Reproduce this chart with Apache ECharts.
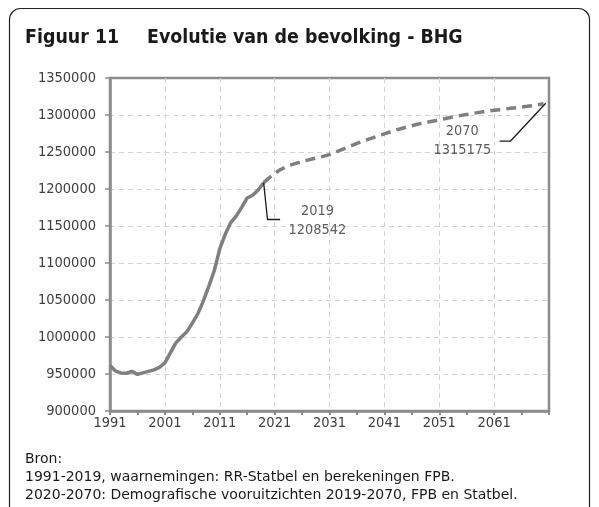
<!DOCTYPE html>
<html>
<head>
<meta charset="utf-8">
<script src="https://cdn.jsdelivr.net/npm/echarts@6/dist/echarts.min.js"></script>
<style>
  html, body { margin: 0; padding: 0; background: #fff; }
  #chart { width: 599px; height: 507px; }
</style>
</head>
<body>
<div id="chart"></div>
<script>
const FONT = "'DejaVu Sans Condensed', 'DejaVu Sans', sans-serif";
const FONT_REG = "'DejaVu Sans', sans-serif";

// waarnemingen 1991-2019
const obsYears = [1991, 1992, 1993, 1994, 1995, 1996, 1997, 1998, 1999, 2000,
  2001, 2002, 2003, 2004, 2005, 2006, 2007, 2008, 2009, 2010,
  2011, 2012, 2013, 2014, 2015, 2016, 2017, 2018, 2019];
const obsValues = [961500, 954000, 951500, 951000, 953500, 949500, 951500, 953500, 955500, 959000,
  965000, 978500, 992000, 1000000, 1007000, 1018800, 1031200, 1048500, 1068500, 1089500,
  1119000, 1138800, 1154600, 1163500, 1175200, 1187900, 1191600, 1198700, 1208542];

// vooruitzichten 2019-2070
const projYears = [2019, 2020, 2021, 2022, 2023, 2024, 2025, 2026, 2027, 2028,
  2029, 2030, 2031, 2032, 2033, 2034, 2035, 2036, 2037, 2038,
  2039, 2040, 2041, 2042, 2043, 2044, 2045, 2046, 2047, 2048,
  2049, 2050, 2051, 2052, 2053, 2054, 2055, 2056, 2057, 2058,
  2059, 2060, 2061, 2062, 2063, 2064, 2065, 2066, 2067, 2068,
  2069, 2070];
const projValues = [1208542, 1215000, 1221000, 1226000, 1229500, 1232500, 1235000, 1237000, 1239000, 1240800,
  1242500, 1244500, 1246500, 1249500, 1252500, 1255500, 1258500, 1261500, 1264500, 1267000,
  1269500, 1272000, 1274500, 1277000, 1279500, 1281500, 1283500, 1285500, 1287500, 1289000,
  1290500, 1292000, 1293500, 1295000, 1296500, 1298000, 1299500, 1300800, 1302000, 1303200,
  1304300, 1305300, 1306300, 1307200, 1308100, 1309000, 1309900, 1310800, 1311700, 1312700,
  1313900, 1315175];

// annotaties: [jaar, waarde]
const note2019Line = [[2019, 1208542], [2019.7, 1158800], [2022, 1158800]];
const note2019Text = [2028.8, 1157600];
const note2070Line = [[2070.4, 1315800], [2064, 1264800], [2062, 1264800]];
const note2070Text = [2055.2, 1265000];

const footerLines = [
  'Bron:',
  '1991-2019, waarnemingen: RR-Statbel en berekeningen FPB.',
  '2020-2070: Demografische vooruitzichten 2019-2070, FPB en Statbel.'
];

const chart = echarts.init(document.getElementById('chart'));

const zip = (xs, ys) => xs.map((x, i) => [x, ys[i]]);
const lineColor = '#7f7f7f';

const option = {
  animation: false,
  textStyle: { fontFamily: FONT },
  grid: {
    left: 110, right: 50, top: 78, bottom: 96,
    show: true, borderColor: '#8c8c8c', borderWidth: 2.5
  },
  xAxis: {
    type: 'value',
    min: 1991, max: 2071, interval: 10,
    axisLine: { lineStyle: { color: '#8c8c8c', width: 2.5 } },
    axisTick: { length: 4, lineStyle: { color: '#8c8c8c', width: 2 } },
    minorTick: { show: true, splitNumber: 2, length: 4, lineStyle: { color: '#8c8c8c', width: 2 } },
    splitLine: { showMaxLine: false, lineStyle: { color: '#d4d4d4', type: [5, 4], width: 1 } },
    axisLabel: {
      color: '#404040', fontSize: 14.5, margin: 5, fontFamily: FONT,
      showMaxLabel: false,
      formatter: v => (v >= 2071 ? '' : String(v))
    }
  },
  yAxis: {
    type: 'value',
    min: 900000, max: 1350000, interval: 50000,
    axisLine: { show: true, lineStyle: { color: '#8c8c8c', width: 2.5 } },
    axisTick: { show: true, length: 5, lineStyle: { color: '#8c8c8c', width: 1.5 } },
    splitLine: { showMaxLine: false, lineStyle: { color: '#d4d4d4', type: [5, 4], width: 1 } },
    axisLabel: {
      color: '#404040', fontSize: 14.5, margin: 14, fontFamily: FONT,
      formatter: v => String(v)
    }
  },
  series: [
    {
      type: 'line', data: zip(obsYears, obsValues), symbol: 'none',
      lineStyle: { color: lineColor, width: 3.5 }, z: 3
    },
    {
      type: 'line', data: zip(projYears, projValues), symbol: 'none',
      lineStyle: { color: lineColor, width: 3.5, type: [10, 6] }, z: 3
    },
    {
      type: 'line', data: note2019Line, symbol: 'none', silent: true,
      lineStyle: { color: '#1a1a1a', width: 1.3 }, z: 4
    },
    {
      type: 'line', data: note2070Line, symbol: 'none', silent: true,
      lineStyle: { color: '#1a1a1a', width: 1.3 }, z: 4
    },
    {
      type: 'scatter', symbolSize: 0, silent: true,
      data: [
        { value: note2019Text, label: { formatter: '2019\n1208542' } },
        { value: note2070Text, label: { formatter: '2070\n1315175' } }
      ],
      label: {
        show: true, position: 'inside', color: '#333', fontSize: 14.4,
        lineHeight: 19, align: 'center', fontFamily: FONT
      }
    }
  ],
  graphic: [
    {
      type: 'rect', silent: true,
      shape: { x: 9.5, y: 8.5, width: 580, height: 510, r: 11 },
      style: { fill: 'none', stroke: '#222', lineWidth: 1.2 }
    },
    {
      type: 'text', left: 25, top: 28,
      style: { text: 'Figuur 11', font: 'bold 19.4px ' + FONT, fill: '#1a1a1a' }
    },
    {
      type: 'text', left: 147, top: 28,
      style: { text: 'Evolutie van de bevolking - BHG', font: 'bold 19.4px ' + FONT, fill: '#1a1a1a' }
    },
    {
      type: 'text', left: 25, top: 451,
      style: { text: footerLines.join('\n'), font: '14px ' + FONT_REG, lineHeight: 17.7, fill: '#1a1a1a' }
    }
  ]
};

option && chart.setOption(option);
window.addEventListener('resize', function () {
  chart.resize();
});
</script>
</body>
</html>
